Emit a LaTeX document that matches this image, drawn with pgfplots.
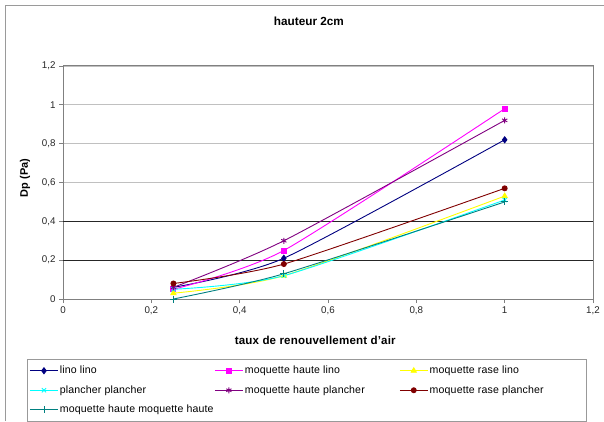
\documentclass[border=0pt]{standalone}
\usepackage{fontspec}
\setmainfont{Liberation Sans}
\usepackage{pgfplots}
\pgfplotsset{compat=1.18}

\definecolor{snavy}{RGB}{0,0,128}
\definecolor{smagenta}{RGB}{255,0,255}
\definecolor{syellow}{RGB}{255,255,0}
\definecolor{scyan}{RGB}{0,255,255}
\definecolor{spurple}{RGB}{128,0,128}
\definecolor{smaroon}{RGB}{128,0,0}
\definecolor{steal}{RGB}{0,128,128}
\definecolor{frame}{RGB}{128,128,128}
\definecolor{gridgray}{RGB}{192,192,192}

\newcommand{\entry}[1]{\makebox[153bp][l]{#1}}

\begin{document}
\begin{tikzpicture}[x=1bp,y=1bp]
\useasboundingbox (0,0) rectangle (604,421);
% chart area frame
\draw[frame!80, line width=1bp] (5,0) -- (5,415) -- (604,415);
\begin{axis}[
  at={(63bp,122bp)}, anchor=south west,
  scale only axis, width=530bp, height=233bp,
  xmin=0, xmax=1.2, ymin=0, ymax=1.2,
  xtick={0,0.2,0.4,0.6,0.8,1,1.2},
  ytick={0,0.2,0.4,0.6,0.8,1,1.2},
  xtick pos=left, ytick pos=left,
  tick align=outside, major tick length=4bp,
  tick style={frame, line width=0.8bp},
  axis line style={frame, line width=1bp},
  ymajorgrids, grid style={gridgray, line width=0.9bp},
  extra y ticks={0.2,0.4}, extra y tick labels={},
  extra y tick style={grid style={black!85, line width=0.9bp}},
  /pgf/number format/use comma,
  /pgf/number format/assume math mode=true,
  ticklabel style={font=\fontsize{9.8}{11}\selectfont, text=black!85},
  title={hauteur 2cm},
  title style={font=\bfseries\fontsize{11.8}{13}\selectfont, at={(axis description cs:0.464,1.167)}, anchor=center},
  xlabel={taux de renouvellement d'air},
  xlabel style={font=\bfseries\fontsize{11.6}{13}\selectfont\addfontfeatures{LetterSpace=1.5}, at={(axis description cs:0.476,-0.176)}, anchor=center},
  ylabel={Dp (Pa)},
  ylabel style={font=\bfseries\fontsize{11}{13}\selectfont, at={(axis description cs:-0.0717,0.519)}, anchor=center, rotate=0},
  clip=false,
  legend columns=3,
  legend cell align=left,
  legend style={
    at={(axis description cs:-0.0679,-0.2575)}, anchor=north west,
    draw=frame!80, line width=1bp,
    inner xsep=2bp, inner ysep=5bp,
    row sep=7bp, column sep=0pt,
    font=\fontsize{10.6}{12}\selectfont\addfontfeatures{LetterSpace=1.5},
    nodes={inner sep=1.5bp, text height=7.5bp, text depth=2bp},
  },
  legend image code/.code={%
    \draw[mark repeat=2, mark phase=2, #1]
      plot coordinates {(0bp,0bp) (14bp,0bp) (28bp,0bp)};},
  every axis plot/.append style={line width=0.9bp, smooth, tension=0.4},
]
\addplot[snavy, mark=diamond*, mark size=3bp, mark options={solid}]
  coordinates {(0.25,0.06) (0.5,0.21) (1,0.82)};
\addlegendentry{\entry{lino lino}}
\addplot[smagenta, mark=square*, mark size=2.5bp]
  coordinates {(0.25,0.05) (0.5,0.25) (1,0.98)};
\addlegendentry{\entry{moquette haute lino}}
\addplot[syellow, mark=triangle*, mark size=3bp]
  coordinates {(0.25,0.03) (0.5,0.12) (1,0.53)};
\addlegendentry{\entry{moquette rase lino}}
\addplot[scyan, mark=x, mark size=3bp]
  coordinates {(0.25,0.05) (0.5,0.12) (1,0.51)};
\addlegendentry{\entry{plancher plancher}}
\addplot[spurple, mark=asterisk, mark size=3bp]
  coordinates {(0.25,0.06) (0.5,0.30) (1,0.92)};
\addlegendentry{\entry{moquette haute plancher}}
\addplot[smaroon, mark=*, mark size=2.5bp]
  coordinates {(0.25,0.08) (0.5,0.18) (1,0.57)};
\addlegendentry{\entry{moquette rase plancher}}
\addplot[steal, mark=+, mark size=3.5bp]
  coordinates {(0.25,0.0) (0.5,0.13) (1,0.50)};
\addlegendentry{\entry{moquette haute moquette haute}}
\end{axis}
\end{tikzpicture}
\end{document}
